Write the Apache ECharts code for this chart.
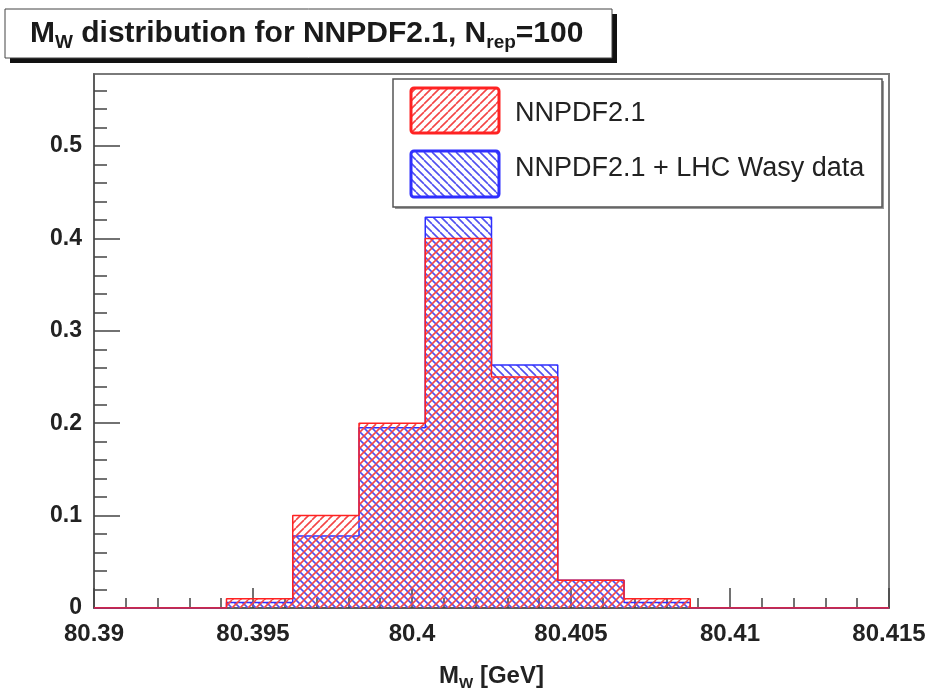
<!DOCTYPE html>
<html>
<head>
<meta charset="utf-8">
<script src="https://cdn.jsdelivr.net/npm/echarts@6/dist/echarts.min.js"></script>
<style>
  html, body { margin: 0; padding: 0; background: #fff; }
  #chart { width: 930px; height: 697px; }
</style>
</head>
<body>
<div id="chart"></div>
<script>
// Histogram binning of M_W (GeV)
const binLow = 80.39;
const binHigh = 80.415;
const nBins = 12;

// Fraction of replicas per bin
const nnpdf21 = [0, 0, 0.01, 0.10, 0.20, 0.40, 0.25, 0.03, 0.01, 0, 0, 0];
const nnpdf21Wasy = [0, 0, 0.006, 0.078, 0.195, 0.423, 0.263, 0.03, 0.006, 0, 0, 0];
const seriesNames = ['NNPDF2.1', 'NNPDF2.1 + LHC Wasy data'];

// Axis ticks
const xTicks = [80.39, 80.395, 80.4, 80.405, 80.41, 80.415];
const yTicks = [0, 0.1, 0.2, 0.3, 0.4, 0.5];
const yMax = 0.578;

const FONT = '"Liberation Sans", Arial, Helvetica, sans-serif';
const RED = '#ff2222';
const BLUE = '#2f2fff';

// Secondary (small) tick positions
const xMinor = [];
for (let i = 0; i <= 25; i++) xMinor.push(+(binLow + i * 0.001).toFixed(3));
const yMinor = [];
for (let i = 0; i <= 28; i++) yMinor.push(+(i * 0.02).toFixed(2));

// Step outline points at bin edges (value held across each bin)
function stepData(vals) {
  const w = (binHigh - binLow) / nBins;
  const pts = vals.map((v, i) => [binLow + i * w, v]);
  pts.push([binHigh, vals[vals.length - 1]]);
  return pts;
}

// Diagonal hatch tile: forward '/' or backward '\'
function hatch(color, forward) {
  const s = 8;
  const c = document.createElement('canvas');
  c.width = s; c.height = s;
  const g = c.getContext('2d');
  g.strokeStyle = color;
  g.lineWidth = 1.6;
  g.beginPath();
  for (let k = -1; k <= 1; k++) {
    if (forward) { g.moveTo(k * s, s); g.lineTo(k * s + s, 0); }
    else { g.moveTo(k * s, 0); g.lineTo(k * s + s, s); }
  }
  g.stroke();
  return { image: c, repeat: 'repeat' };
}
const redHatch = hatch('rgb(244,70,70)', true);
const blueHatch = hatch('rgb(80,80,240)', false);

const chart = echarts.init(document.getElementById('chart'));

const tickStyle = { color: '#444', width: 1.5 };
const labelStyle = { fontFamily: FONT, fontWeight: 'bold', color: '#222' };

chart.setOption({
  animation: false,
  backgroundColor: '#fff',
  grid: {
    left: 94, top: 74, right: 41, bottom: 89,
    show: true, borderColor: '#7a7a7a', borderWidth: 2,
    backgroundColor: 'transparent',
    outerBoundsMode: 'none', containLabel: false
  },
  xAxis: [
    {
      type: 'value', min: binLow, max: binHigh, position: 'bottom',
      axisLine: { show: true, onZero: false, lineStyle: { color: '#555', width: 1.5 } },
      axisTick: { show: true, inside: true, length: 20, customValues: xTicks, lineStyle: tickStyle },
      axisLabel: Object.assign({
        customValues: xTicks, margin: 14, fontSize: 24,
        formatter: v => String(+v.toFixed(3))
      }, labelStyle),
      splitLine: { show: false },
      name: '{m|M}{s|W}{m| [GeV]}',
      nameLocation: 'middle', nameGap: 53,
      nameTextStyle: {
        rich: {
          m: { fontSize: 24, fontWeight: 'bold', fontFamily: FONT, color: '#222', lineHeight: 30 },
          s: { fontSize: 15, fontWeight: 'bold', fontFamily: FONT, color: '#222', lineHeight: 14, verticalAlign: 'bottom' }
        }
      }
    },
    {
      type: 'value', min: binLow, max: binHigh, position: 'bottom',
      axisLine: { show: false, onZero: false },
      axisTick: { show: true, inside: true, length: 10, customValues: xMinor, lineStyle: tickStyle },
      axisLabel: { show: false },
      splitLine: { show: false }
    }
  ],
  yAxis: [
    {
      type: 'value', min: 0, max: yMax, position: 'left',
      axisLine: { show: true, onZero: false, lineStyle: { color: '#555', width: 1.5 } },
      axisTick: { show: true, inside: true, length: 26, customValues: yTicks, lineStyle: tickStyle },
      axisLabel: Object.assign({
        customValues: yTicks, margin: 12, fontSize: 23,
        formatter: v => String(+v.toFixed(1))
      }, labelStyle),
      splitLine: { show: false }
    },
    {
      type: 'value', min: 0, max: yMax, position: 'left',
      axisLine: { show: false, onZero: false },
      axisTick: { show: true, inside: true, length: 13, customValues: yMinor, lineStyle: tickStyle },
      axisLabel: { show: false },
      splitLine: { show: false }
    }
  ],
  series: [
    {
      type: 'line', name: seriesNames[1], xAxisIndex: 0, yAxisIndex: 0,
      data: stepData(nnpdf21Wasy), step: 'end', symbol: 'none', z: 2,
      itemStyle: { color: BLUE },
      lineStyle: { color: BLUE, width: 1.5 },
      areaStyle: { color: blueHatch, opacity: 1 }
    },
    {
      type: 'line', name: seriesNames[0], xAxisIndex: 0, yAxisIndex: 0,
      data: stepData(nnpdf21), step: 'end', symbol: 'none', z: 3,
      itemStyle: { color: RED },
      lineStyle: { color: RED, width: 1.5 },
      areaStyle: { color: redHatch, opacity: 1 }
    }
  ],
  graphic: [
    // Title box with drop shadow
    { type: 'rect', z: 100, shape: { x: 10, y: 14, width: 607, height: 49 }, style: { fill: '#111' } },
    { type: 'rect', z: 101, shape: { x: 5, y: 9, width: 607, height: 49 }, style: { fill: '#fff', stroke: '#444', lineWidth: 1 } },
    {
      type: 'text', z: 102, x: 30, y: 34,
      style: {
        text: '{b|M}{s|W}{b| distribution for NNPDF2.1, N}{s|rep}{b|=100}',
        verticalAlign: 'middle',
        rich: {
          b: { fontSize: 30, fontWeight: 'bold', fontFamily: FONT, fill: '#1a1a1a', lineHeight: 36 },
          s: { fontSize: 19, fontWeight: 'bold', fontFamily: FONT, fill: '#1a1a1a', lineHeight: 18, verticalAlign: 'bottom' }
        }
      }
    },
    // Legend box
    { type: 'rect', z: 100, shape: { x: 395, y: 81, width: 489, height: 128 }, style: { fill: '#999' } },
    { type: 'rect', z: 101, shape: { x: 393, y: 79, width: 489, height: 128 }, style: { fill: '#fff', stroke: '#555', lineWidth: 1.5 } },
    { type: 'rect', z: 102, shape: { x: 411, y: 88, width: 88, height: 45, r: 3 }, style: { fill: redHatch, stroke: RED, lineWidth: 3 } },
    { type: 'rect', z: 102, shape: { x: 411, y: 151, width: 88, height: 46, r: 3 }, style: { fill: blueHatch, stroke: BLUE, lineWidth: 3 } },
    {
      type: 'text', z: 102, x: 515, y: 114,
      style: { text: seriesNames[0], font: '27px ' + FONT, fill: '#222', verticalAlign: 'middle' }
    },
    {
      type: 'text', z: 102, x: 515, y: 169,
      style: { text: seriesNames[1], font: '27px ' + FONT, fill: '#222', verticalAlign: 'middle' }
    }
  ]
});
</script>
</body>
</html>
